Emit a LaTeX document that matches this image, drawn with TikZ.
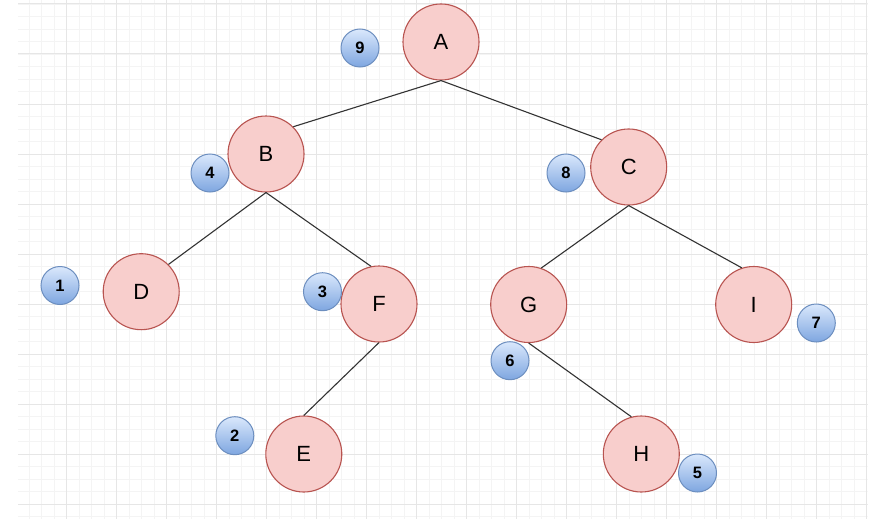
\documentclass[tikz,border=0pt]{standalone}
\usepackage{fontspec}
\setmainfont{Liberation Sans}
\definecolor{nodefill}{HTML}{F8CECC}
\definecolor{nodedraw}{HTML}{B85450}
\definecolor{badgetop}{HTML}{DAE8FC}
\definecolor{badgebot}{HTML}{7EA6E0}
\definecolor{badgedraw}{HTML}{6C8EBF}
\definecolor{gridminor}{HTML}{F4F4F4}
\definecolor{gridmajor}{HTML}{E6E6E6}
\definecolor{edgecol}{HTML}{333333}
\tikzset{
  treenode/.style={circle, draw=nodedraw, fill=nodefill, line width=1.1pt,
    minimum size=76pt, inner sep=0pt, font=\fontsize{22}{22}\selectfont, text=black},
  badge/.style={circle, draw=badgedraw, top color=badgetop, bottom color=badgebot,
    line width=1pt, minimum size=38pt, inner sep=0pt,
    font=\fontsize{16.5}{16.5}\selectfont\bfseries, text=black},
  edge/.style={draw=edgecol, line width=1.1pt},
  minorline/.style={draw=gridminor, line width=0.9pt},
  majorline/.style={draw=gridmajor, line width=1pt}
}
\begin{document}
\begin{tikzpicture}[x=1pt, y=-1pt]
\useasboundingbox (0,0) rectangle (875,519);
\fill[white] (0,0) rectangle (875,519);
% grid
\begin{scope}
\clip (18,0) rectangle (867.5,519);
\foreach \x in {29.2,41.7,...,870} {\draw[minorline] (\x,0) -- (\x,519);}
\foreach \y in {4,16.5,...,525} {\draw[minorline] (18,\y) -- (867.5,\y);}
\foreach \x in {66.7,116.7,...,870} {\draw[majorline] (\x,0) -- (\x,519);}
\foreach \y in {4,54,...,525} {\draw[majorline] (18,\y) -- (867.5,\y);}
\end{scope}
% tree nodes
\node[treenode] (A) at (441,42) {A};
\node[treenode] (B) at (266,154) {B};
\node[treenode] (C) at (628.7,167) {C};
\node[treenode] (D) at (141.2,291.7) {D};
\node[treenode] (F) at (379,304) {F};
\node[treenode] (G) at (528.7,304.5) {G};
\node[treenode] (I) at (753.7,304.5) {I};
\node[treenode] (E) at (303.8,454) {E};
\node[treenode] (H) at (641.3,454) {H};
% badges
\node[badge] (n9) at (360,48) {9};
\node[badge] (n4) at (210,173) {4};
\node[badge] (n8) at (566,173) {8};
\node[badge] (n1) at (60,285.5) {1};
\node[badge] (n3) at (322.5,291.7) {3};
\node[badge] (n6) at (510,360.7) {6};
\node[badge] (n7) at (816.3,323) {7};
\node[badge] (n2) at (234.8,435.7) {2};
\node[badge] (n5) at (697.5,473) {5};
% edges
\draw[edge] (A.south) -- (B.45);
\draw[edge] (A.south) -- (C.135);
\draw[edge] (B.south) -- (D.45);
\draw[edge] (B.south) -- (F.102);
\draw[edge] (C.south) -- (G.71);
\draw[edge] (C.south) -- (I.108);
\draw[edge] (F.south) -- (E.north);
\draw[edge] (G.south) -- (H.105);
\end{tikzpicture}
\end{document}
